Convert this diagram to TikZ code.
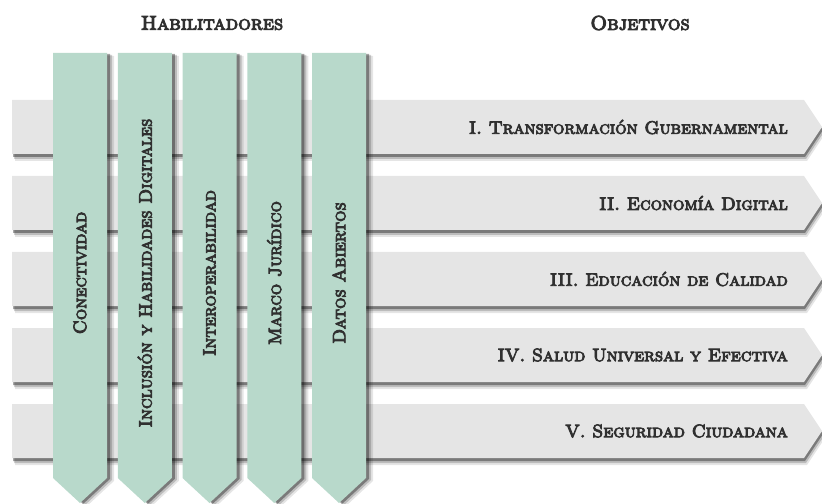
\documentclass[tikz,border=0pt]{standalone}
\usepackage{fontspec}
\newfontfamily\scf{lmromancaps10-regular.otf}[FakeBold=5]
\usetikzlibrary{shadows}
\definecolor{barg}{HTML}{E5E5E5}
\definecolor{colg}{HTML}{B8D9CB}
\definecolor{txt}{HTML}{303030}
\tikzset{
  objbar/.style={fill=barg,
    drop shadow={shadow xshift=3bp, shadow yshift=-7bp, fill=black, opacity=0.10},
    drop shadow={shadow xshift=2bp, shadow yshift=-5bp, fill=black, opacity=0.18},
    drop shadow={shadow xshift=1bp, shadow yshift=-3bp, fill=black, opacity=0.35}},
  habcol/.style={fill=colg,
    drop shadow={shadow xshift=7bp, shadow yshift=-3bp, fill=black, opacity=0.10},
    drop shadow={shadow xshift=5bp, shadow yshift=-2bp, fill=black, opacity=0.18},
    drop shadow={shadow xshift=3bp, shadow yshift=-1bp, fill=black, opacity=0.35}},
  objtext/.style={anchor=east, inner sep=0pt, text=txt, font=\scf\fontsize{18}{18}\selectfont},
  habtext/.style={rotate=90, inner sep=0pt, text=txt, font=\scf\fontsize{18}{18}\selectfont},
  header/.style={inner sep=0pt, text=txt, font=\scf\fontsize{20}{20}\selectfont}
}
\begin{document}
\begin{tikzpicture}[x=1bp,y=-1bp]
\useasboundingbox (0,0) rectangle (822,504);
% objective bars
\foreach \i in {0,...,4}{
  \pgfmathsetmacro{\tp}{100+76*\i}
  \pgfmathsetmacro{\bt}{\tp+54}
  \pgfmathsetmacro{\md}{\tp+27}
  \path[objbar] (12,\tp) -- (804,\tp) -- (822,\md) -- (804,\bt) -- (12,\bt) -- cycle;
}
% enabler columns
\foreach \j in {0,...,4}{
  \pgfmathsetmacro{\lf}{53+64.75*\j}
  \pgfmathsetmacro{\rt}{\lf+54}
  \pgfmathsetmacro{\cx}{\lf+27}
  \path[habcol] (\lf,53) -- (\rt,53) -- (\rt,478) -- (\cx,503) -- (\lf,478) -- cycle;
}
% headers
\node[header] (hab) at (212,23) {Habilitadores};
\node[header] (obj) at (640,23) {Objetivos};
% objective labels
\node[objtext] (o1) at (788,127) {I. Transformación Gubernamental};
\node[objtext] (o2) at (788,203) {II. Economía Digital};
\node[objtext] (o3) at (788,279) {III. Educación de Calidad};
\node[objtext] (o4) at (788,355) {IV. Salud Universal y Efectiva};
\node[objtext] (o5) at (788,431) {V. Seguridad Ciudadana};
% enabler labels
\node[habtext] (h1) at (80,273) {Conectividad};
\node[habtext] (h2) at (144.75,273) {Inclusión y Habilidades Digitales};
\node[habtext] (h3) at (209.5,273) {Interoperabilidad};
\node[habtext] (h4) at (274.25,273) {Marco Jurídico};
\node[habtext] (h5) at (339,273) {Datos Abiertos};
\end{tikzpicture}
\end{document}
